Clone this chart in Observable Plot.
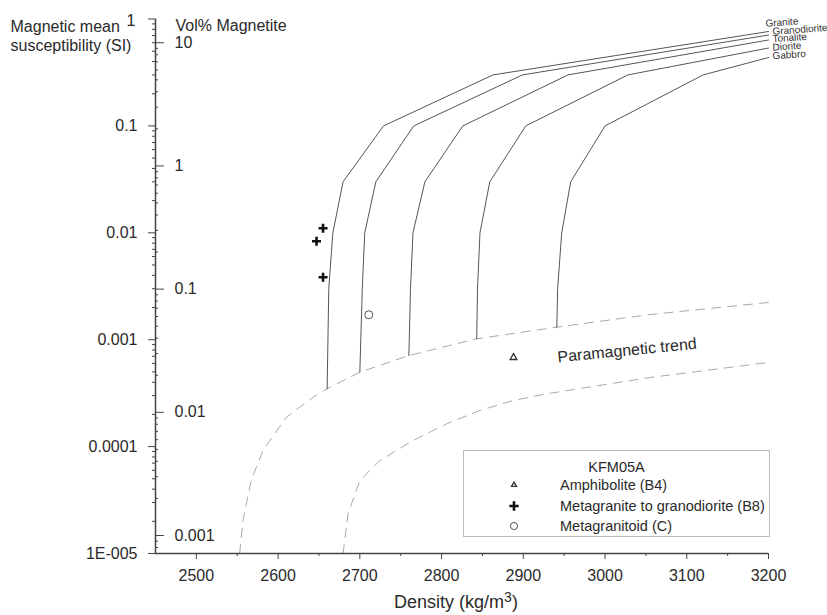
<!DOCTYPE html>
<html><head><meta charset="utf-8">
<script src="https://cdn.jsdelivr.net/npm/d3@7"></script>
<script src="https://cdn.jsdelivr.net/npm/@observablehq/plot@0.6"></script>
<style>
body{margin:0;background:#fff;}
#wrap{position:relative;width:827px;height:615px;font-family:"Liberation Sans",Arial,sans-serif;color:#2a2a2a;}
#xlabel{position:absolute;left:356px;width:200px;top:592px;text-align:center;font-size:18px;line-height:20px;}
#xlabel span{position:relative;top:-6px;font-size:14px;}
#legend{position:absolute;left:463px;top:450px;width:307px;height:87px;border:1px solid #bbb;box-sizing:border-box;background:#fff;font-size:14.5px;}
#legend .t{position:absolute;left:0;width:100%;text-align:center;line-height:16px;}
#legend .row{position:absolute;left:96px;line-height:16px;white-space:nowrap;}
#legend svg{position:absolute;overflow:visible;}
</style></head><body><div id="wrap"></div>
<script>
// ---- data ----
const rocks = ["Granite", "Granodiorite", "Tonalite", "Diorite", "Gabbro"];
const graniteDensity      = [2660, 2662, 2667, 2679.5, 2729, 2863, 3200];
const graniteSusc         = [3.47e-4, 0.003, 0.01, 0.03, 0.1, 0.3, 0.764];
const granodioriteDensity = [2700, 2703, 2706, 2719.6, 2766, 2899, 3200];
const granodioriteSusc    = [4.97e-4, 0.003, 0.01, 0.03, 0.1, 0.3, 0.708];
const tonaliteDensity     = [2760, 2762, 2765, 2779.6, 2826, 2954.7, 3200];
const tonaliteSusc        = [7.11e-4, 0.003, 0.01, 0.03, 0.1, 0.3, 0.636];
const dioriteDensity      = [2843, 2844, 2847, 2859, 2903, 3028, 3200];
const dioriteSusc         = [1.02e-3, 0.003, 0.01, 0.03, 0.1, 0.3, 0.535];
const gabbroDensity       = [2941, 2942, 2947, 2958, 3000, 3120, 3200];
const gabbroSusc          = [1.31e-3, 0.003, 0.01, 0.03, 0.1, 0.3, 0.436];

const paraUpperDensity = [2553, 2557, 2567, 2581.5, 2610, 2643, 2660, 2700, 2760, 2843, 2941, 3055, 3200];
const paraUpperSusc    = [1e-5, 2.04e-5, 4.82e-5, 9.2e-5, 1.88e-4, 2.9e-4, 3.47e-4, 4.97e-4, 7.11e-4, 1.02e-3, 1.31e-3, 1.72e-3, 2.23e-3];
const paraLowerDensity = [2679.5, 2685.6, 2700, 2724.5, 2765, 2806, 2847, 2888, 2928.6, 3055, 3200];
const paraLowerSusc    = [1e-5, 2.35e-5, 4.82e-5, 7.41e-5, 1.14e-4, 1.63e-4, 2.18e-4, 2.7e-4, 3.12e-4, 4.43e-4, 6.12e-4];

const amphiboliteDensity = [2888];
const amphiboliteSusc    = [6.81e-4];
const metagraniteDensity = [2655, 2647, 2655];
const metagraniteSusc    = [0.01104, 0.00834, 0.00384];
const metagranitoidDensity = [2711];
const metagranitoidSusc    = [0.00171];

const densityTicks = [2500, 2600, 2700, 2800, 2900, 3000, 3100, 3200];
const densityMinorTicks = [2550, 2650, 2750, 2850, 2950, 3050, 3150];
const suscTicks = [1e-5, 1e-4, 1e-3, 1e-2, 1e-1, 1];
const suscTickLabels = ["1E-005", "0.0001", "0.001", "0.01", "0.1", "1"];
const volTicks = [0.001, 0.01, 0.1, 1, 10];
const volTickLabels = ["0.001", "0.01", "0.1", "1", "10"];
const VOL_A = -1.3746, VOL_B = 1.1524;
const volToSusc = v => Math.pow(10, VOL_A + VOL_B * Math.log10(v));

const legendTitle = "KFM05A";
const legendItems = ["Amphibolite (B4)", "Metagranite to granodiorite (B8)", "Metagranitoid (C)"];
const trendLabel = "Paramagnetic trend";
const trendLabelPos = {density: 3027, susc: 7.93e-4};

// ---- build tables ----
const rockDensity = [graniteDensity, granodioriteDensity, tonaliteDensity, dioriteDensity, gabbroDensity];
const rockSusc = [graniteSusc, granodioriteSusc, tonaliteSusc, dioriteSusc, gabbroSusc];
const curveRows = rocks.flatMap((r, i) => rockDensity[i].map((d, j) => ({rock: r, density: d, susc: rockSusc[i][j]})));
const endRows = rocks.map((r, i) => ({rock: r, density: rockDensity[i].at(-1), susc: rockSusc[i].at(-1)}));
const paraRows = [
  ...paraUpperDensity.map((d, j) => ({trend: "upper", density: d, susc: paraUpperSusc[j]})),
  ...paraLowerDensity.map((d, j) => ({trend: "lower", density: d, susc: paraLowerSusc[j]}))
];
const pts = (ds, ks) => ds.map((d, j) => ({density: d, susc: ks[j]}));

const suscMinor = [];
for (let n = -5; n < 0; n++) for (let m = 2; m <= 9; m++) suscMinor.push(m * Math.pow(10, n));
const volMinor = [];
for (let n = -4; n <= 1; n++) for (let m = 2; m <= 9; m++) {
  const v = m * Math.pow(10, n), k = volToSusc(v);
  if (k >= 1e-5 && k <= 1) volMinor.push(v);
}
const suscLabel = new Map(suscTicks.map((t, i) => [t, suscTickLabels[i]]));
const volLabel = new Map(volTicks.map((t, i) => [t, volTickLabels[i]]));

const W = 827, H = 615, ML = 155, MR = 59, MT = 18.5, MB = 62;
const frameW = W - ML - MR;
const axisColor = "#444";
const FS = 16;
const labelOffsets = {Granite: [-3, -8], Granodiorite: [4, -3.5], Tonalite: [4, -1], Diorite: [4, -0.5], Gabbro: [4, -1.5]};

const plot = Plot.plot({
  width: W, height: H,
  marginLeft: ML, marginRight: MR, marginTop: MT, marginBottom: MB,
  style: {fontFamily: '"Liberation Sans", Arial, sans-serif', fontSize: FS + "px", color: "#2a2a2a", background: "white", overflow: "visible"},
  x: {domain: [2450, 3200], label: null},
  y: {type: "log", domain: [1e-5, 1], label: null},
  marks: [
    Plot.line(paraRows, {x: "density", y: "susc", z: "trend", stroke: "#aaa", strokeWidth: 1, strokeDasharray: "9,7"}),
    Plot.line(curveRows, {x: "density", y: "susc", z: "rock", stroke: "#555", strokeWidth: 1}),
    ...rocks.map(r => Plot.text(endRows.filter(e => e.rock === r), {
      x: "density", y: "susc", text: "rock", textAnchor: "start", fontSize: 10,
      dx: labelOffsets[r][0], dy: labelOffsets[r][1], rotate: -4, fill: "#333"
    })),
    Plot.text([trendLabel], {x: () => trendLabelPos.density, y: () => trendLabelPos.susc, text: d => d, rotate: -5.6, fontSize: 16, fill: "#2a2a2a"}),
    // axes
    Plot.ruleX([2450], {stroke: axisColor, strokeWidth: 1.5}),
    Plot.ruleY([1e-5], {stroke: axisColor, strokeWidth: 1.5}),
    Plot.axisX(densityTicks, {tickSize: 6, tickPadding: 10, tickFormat: d => String(d), label: null, stroke: axisColor, fontSize: FS}),
    Plot.axisX(densityMinorTicks, {tickSize: 3, tickFormat: () => "", label: null, stroke: axisColor}),
    Plot.axisY(suscTicks, {tickSize: 7, tickPadding: 11, tickFormat: d => (d === 1 ? "" : suscLabel.get(d)), label: null, stroke: axisColor, fontSize: FS}),
    Plot.axisY(suscMinor, {tickSize: 3, tickFormat: () => "", label: null, stroke: axisColor}),
    Plot.text(["1"], {frameAnchor: "top-left", text: d => d, dx: -20, dy: -4, textAnchor: "end", fontSize: FS}),
    Plot.tickY(volTicks, {y: volToSusc, insetRight: frameW - 9, stroke: axisColor}),
    Plot.tickY(volMinor, {y: volToSusc, insetRight: frameW - 3, stroke: axisColor}),
    Plot.text(volTicks, {y: volToSusc, text: v => volLabel.get(v), frameAnchor: "left", dx: 19, textAnchor: "start", fontSize: FS}),
    // axis titles
    Plot.text(["Magnetic mean"], {frameAnchor: "top-left", text: d => d, dx: 10 - ML, dy: 20 - MT, textAnchor: "start", fontSize: FS}),
    Plot.text(["susceptibility (SI)"], {frameAnchor: "top-left", text: d => d, dx: 10 - ML, dy: 39 - MT, textAnchor: "start", fontSize: FS}),
    Plot.text(["Vol% Magnetite"], {frameAnchor: "top-left", text: d => d, dx: 20, dy: 19 - MT, textAnchor: "start", fontSize: FS}),
    // data
    Plot.dot(pts(amphiboliteDensity, amphiboliteSusc), {x: "density", y: "susc", symbol: "triangle", r: 2.5, stroke: "#333", strokeWidth: 1.3, fill: "none"}),
    Plot.dot(pts(metagraniteDensity, metagraniteSusc), {x: "density", y: "susc", symbol: "plus", r: 3, stroke: "#111", strokeWidth: 2.6}),
    Plot.dot(pts(metagranitoidDensity, metagranitoidSusc), {x: "density", y: "susc", symbol: "circle", r: 4, stroke: "#555", strokeWidth: 1, fill: "none"})
  ]
});

const wrap = document.getElementById("wrap");
wrap.appendChild(plot);

const xl = document.createElement("div");
xl.id = "xlabel";
xl.innerHTML = "Density (kg/m<span>3</span>)";
wrap.appendChild(xl);

// legend (drawn in place, inside the plotting area as in the reference)
const lg = document.createElement("div");
lg.id = "legend";
const t = document.createElement("div");
t.className = "t"; t.style.top = "8px"; t.textContent = legendTitle;
lg.appendChild(t);
const legendSymbols = [
  {sym: d3.symbolTriangle2, size: 18, stroke: "#333", sw: 1.3},
  {sym: d3.symbolPlus, size: 30, stroke: "#111", sw: 2.6},
  {sym: d3.symbolCircle, size: 40, stroke: "#555", sw: 1}
];
const rowY = [34, 55, 75];
legendItems.forEach((txt, i) => {
  const row = document.createElement("div");
  row.className = "row"; row.style.top = (rowY[i] - 8) + "px"; row.textContent = txt;
  lg.appendChild(row);
  const s = legendSymbols[i];
  const svg = d3.create("svg").attr("width", 12).attr("height", 12)
    .style("left", "44px").style("top", (rowY[i] - 6) + "px");
  svg.append("path").attr("transform", "translate(6,6)")
    .attr("d", d3.symbol(s.sym, s.size)()).attr("fill", "none")
    .attr("stroke", s.stroke).attr("stroke-width", s.sw);
  lg.appendChild(svg.node());
});
wrap.appendChild(lg);
</script></body></html>
